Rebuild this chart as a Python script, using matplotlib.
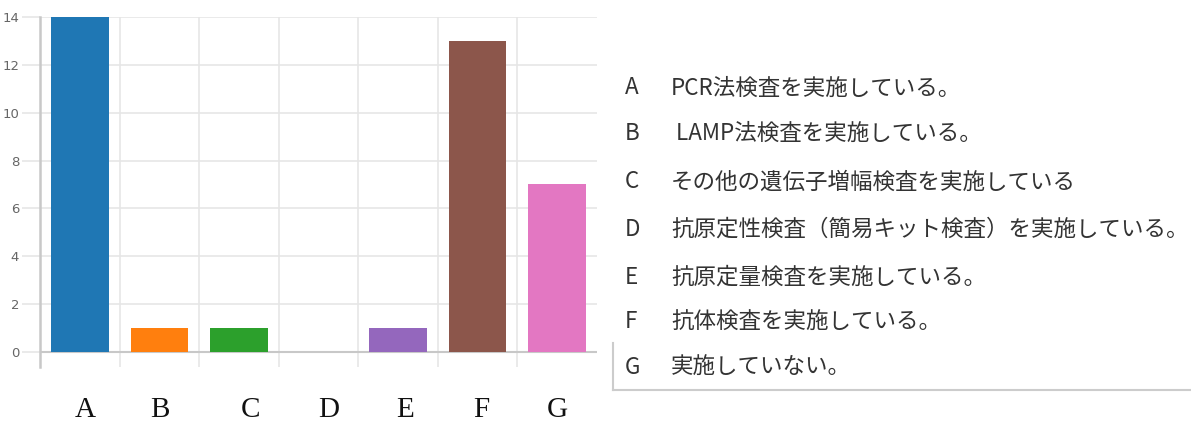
import matplotlib
matplotlib.use("Agg")
import matplotlib.pyplot as plt
from matplotlib.lines import Line2D

# Survey answers: how many facilities run each kind of test
categories = ["A", "B", "C", "D", "E", "F", "G"]
counts = [14, 1, 1, 0, 1, 13, 7]
colors = ["#1f77b4", "#ff7f0e", "#2ca02c", "#d62728", "#9467bd", "#8c564b", "#e377c2"]
answers = [
    "PCR法検査を実施している。",
    " LAMP法検査を実施している。",
    "その他の遺伝子増幅検査を実施している",
    "抗原定性検査（簡易キット検査）を実施している。",
    "抗原定量検査を実施している。",
    "抗体検査を実施している。",
    "実施していない。",
]
# hand-placed category letters under the chart (pixels from left)
letter_x = [85, 160, 251, 329, 405, 481, 557]

W, H = 1191, 425
fig = plt.figure(figsize=(W / 100, H / 100), dpi=100)
ax = fig.add_axes([40 / W, (H - 367) / H, 557 / W, 350 / H])

x = list(range(len(categories)))
ax.bar(x, counts, width=0.725, color=colors, edgecolor="none", zorder=3)

ax.set_xlim(-0.5, 6.5)
ax.set_ylim(-0.63, 14)
ax.set_yticks(range(0, 15, 2))
ax.set_yticklabels([str(v) for v in range(0, 15, 2)], fontsize=9.5, color="#666666")
ax.set_xticks([i - 0.5 for i in range(len(categories))])
ax.set_xticklabels([])
ax.tick_params(axis="x", length=0)
ax.tick_params(axis="y", length=13, width=1.2, color="#e6e6e6", pad=2)

ax.grid(True, color="#e6e6e6", linewidth=1.2, zorder=0)
ax.axhline(0, color="#c8c8c8", linewidth=1.5, zorder=2)
for side in ["top", "right", "bottom"]:
    ax.spines[side].set_visible(False)
ax.spines["left"].set_color("#c8c8c8")
ax.spines["left"].set_linewidth(1.8)

for lx, c in zip(letter_x, categories):
    fig.text(lx / W, (H - 410) / H, c, fontsize=21, family="Liberation Serif",
             ha="center", va="center", color="#111111")

# answer list on the right
row_y = [88, 133, 182, 229, 277, 322, 367]
for ry, c, a in zip(row_y, categories, answers):
    fig.text(625 / W, (H - ry) / H, c, fontsize=16.2, va="center", color="#333333",
             family=["Noto Sans CJK JP", "DejaVu Sans"])
    fig.text(671 / W, (H - ry) / H, a, fontsize=16.2, va="center", color="#333333",
             family=["Noto Sans CJK JP", "DejaVu Sans"])

fig.add_artist(Line2D([613 / W, 613 / W], [(H - 343) / H, (H - 390) / H],
                      color="#cccccc", linewidth=1.5))
fig.add_artist(Line2D([613 / W, 1190 / W], [(H - 390) / H, (H - 390) / H],
                      color="#cccccc", linewidth=1.5))

fig.savefig("out.png", dpi=100, facecolor="white")
